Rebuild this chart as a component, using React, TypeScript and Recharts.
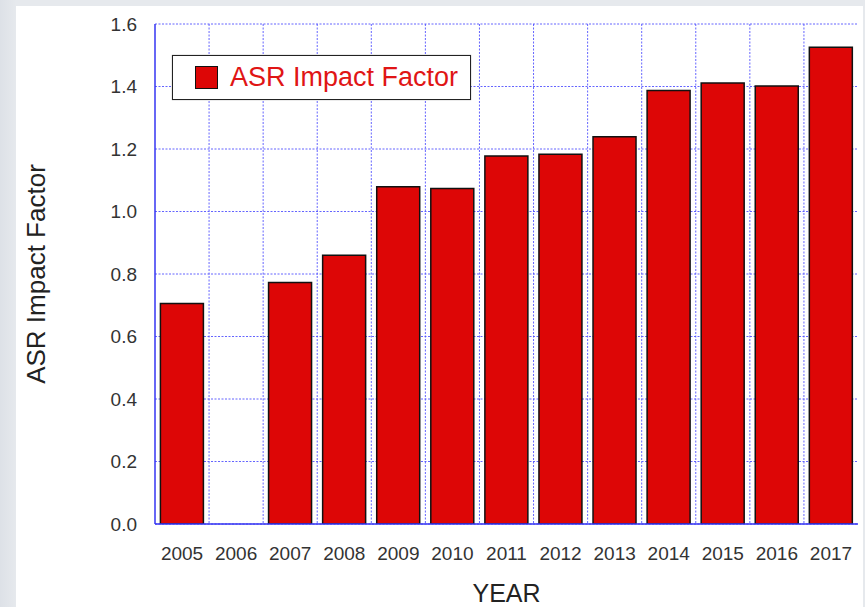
import React from 'react';
import { BarChart, Bar, XAxis, YAxis, CartesianGrid, Legend } from 'recharts';

const years = ['2005', '2006', '2007', '2008', '2009', '2010', '2011', '2012', '2013', '2014', '2015', '2016', '2017'];
const impactFactor = [0.706, null, 0.773, 0.86, 1.079, 1.074, 1.178, 1.183, 1.239, 1.387, 1.411, 1.402, 1.526];
const yTicks = [0, 0.2, 0.4, 0.6, 0.8, 1.0, 1.2, 1.4, 1.6];
const seriesName = 'ASR Impact Factor';

const data = years.map((year, i) => ({ year, value: impactFactor[i] }));

const BLUE = '#3535f2';
const GRID = '#4a4aff';
const RED = '#dd0606';
const FONT = '"Liberation Sans", Arial, Helvetica, sans-serif';

const NoLabel = () => <g />;

const LegendBox = (props: any) => {
  const { payload } = props;
  const item = payload && payload[0];
  return (
    <div
      style={{
        width: 297,
        height: 43,
        border: '1.5px solid #222',
        background: '#fff',
        display: 'flex',
        alignItems: 'center',
        boxShadow: '0 0 1px #888',
      }}
    >
      <div
        style={{
          width: 21,
          height: 21,
          marginLeft: 22,
          background: RED,
          border: '1.5px solid #111',
        }}
      />
      <span
        style={{
          marginLeft: 12,
          color: '#e01515',
          fontFamily: FONT,
          fontSize: 27,
          lineHeight: '27px',
          whiteSpace: 'nowrap',
        }}
      >
        {item ? item.value : seriesName}
      </span>
    </div>
  );
};

const App = () => {
  return (
    <div
      style={{
        position: 'fixed',
        left: 0,
        top: 0,
        width: 865,
        height: 607,
        background: 'linear-gradient(90deg, #dde1e7 0px, #e6e9ed 16px)',
        overflow: 'hidden',
      }}
    >
      <div
        style={{
          position: 'absolute',
          left: 16,
          top: 6,
          width: 847,
          height: 601,
          background: '#fff',
        }}
      />
      <div style={{ position: 'absolute', left: 0, top: 0 }}>
        <BarChart
          width={865}
          height={607}
          data={data}
          margin={{ top: 24, right: 7, left: 95, bottom: 43 }}
          barCategoryGap="10%"
        >
          <CartesianGrid
            stroke={GRID}
            strokeOpacity={0.85}
            strokeDasharray="2 1.5"
            yAxisId="left"
            xAxisId="bottom"
            verticalCoordinatesGenerator={({ offset }: any) =>
              years.slice(1).map((_, i) => offset.left + ((i + 1) * offset.width) / years.length)
            }
          />
          <XAxis
            xAxisId="bottom"
            dataKey="year"
            height={40}
            tickLine={false}
            tickSize={0}
            tickMargin={23}
            axisLine={{ stroke: BLUE, strokeWidth: 1.5 }}
            tick={{ fill: '#333', fontSize: 19, fontFamily: FONT }}
            interval={0}
            label={{
              value: 'YEAR',
              position: 'insideBottom',
              offset: -38,
              style: { fill: '#222', fontSize: 25, fontFamily: FONT },
            }}
          />
          <XAxis
            xAxisId="top"
            dataKey="year"
            orientation="top"
            height={0}
            tick={false}
            tickLine={false}
            axisLine={{ stroke: BLUE, strokeWidth: 1.5 }}
          />
          {/* inner tick marks on the left edge */}
          <YAxis
            yAxisId="leftTicks"
            width={0}
            mirror
            domain={[0, 1.6]}
            ticks={yTicks}
            interval={0}
            tick={NoLabel}
            tickSize={8}
            tickLine={{ stroke: BLUE, strokeWidth: 1.5 }}
            axisLine={false}
          />
          <YAxis
            yAxisId="left"
            width={60}
            domain={[0, 1.6]}
            ticks={yTicks}
            interval={0}
            allowDataOverflow
            tickFormatter={(v: number) => v.toFixed(1)}
            tickSize={0}
            tickMargin={18}
            tickLine={false}
            axisLine={{ stroke: BLUE, strokeWidth: 1.5 }}
            tick={{ fill: '#333', fontSize: 19, fontFamily: FONT }}
            label={{
              value: 'ASR Impact Factor',
              angle: -90,
              position: 'insideLeft',
              offset: -59,
              style: { textAnchor: 'middle', fill: '#222', fontSize: 26, fontFamily: FONT },
            }}
          />
          <YAxis
            yAxisId="right"
            orientation="right"
            width={0}
            mirror
            domain={[0, 1.6]}
            ticks={yTicks}
            interval={0}
            tick={NoLabel}
            tickSize={8}
            tickLine={{ stroke: BLUE, strokeWidth: 1.5 }}
            axisLine={{ stroke: BLUE, strokeWidth: 1.5 }}
          />
          <Legend
            layout="horizontal"
            verticalAlign="middle"
            align="center"
            content={<LegendBox />}
            wrapperStyle={{ left: 172, top: 55, width: 300, height: 46 }}
          />
          <Bar
            xAxisId="bottom"
            yAxisId="left"
            dataKey="value"
            name={seriesName}
            fill={RED}
            stroke="#111"
            strokeWidth={1.5}
            isAnimationActive={false}
          />
        </BarChart>
      </div>
    </div>
  );
};

export default App;
